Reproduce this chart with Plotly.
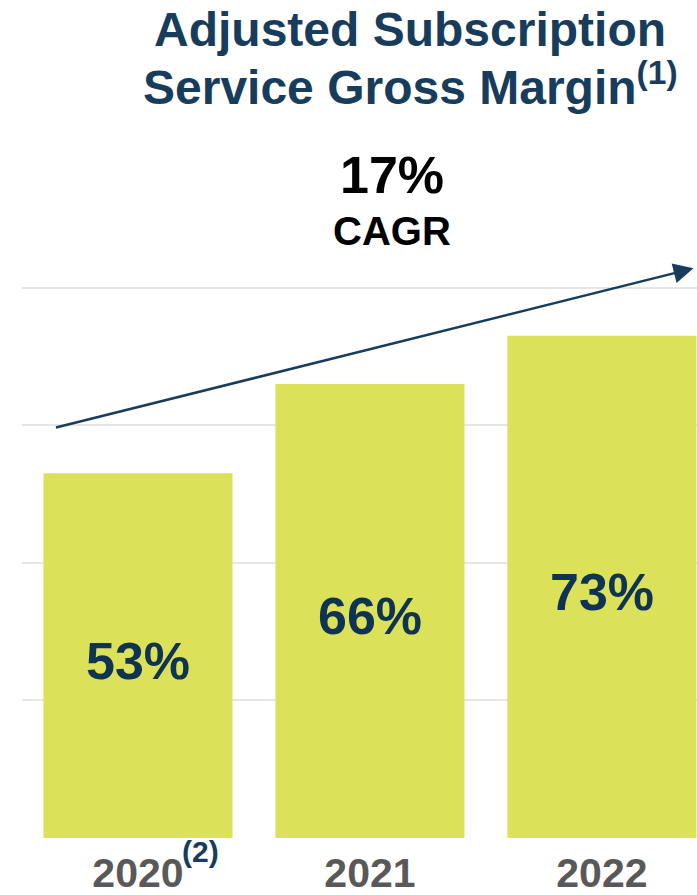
import plotly.graph_objects as go

years = ["2020", "2021", "2022"]
margin_pct = [53, 66, 73]
bar_labels = ["53%", "66%", "73%"]
tick_labels = ["2020", "2021", "2022"]
cagr_text = "17%"
cagr_label = "CAGR"
title_line1 = "Adjusted Subscription"
title_line2 = "Service Gross Margin<sup>(1)</sup>"
footnote_2020 = "(2)"
arrow_start = (-0.36, 59.6)
arrow_end = (2.395, 82.8)

W, H = 697, 895
L, R, T, B = 22, 0, 200, 57
FONT = "Liberation Sans, Arial, sans-serif"
NAVY = "#173c5c"
LABEL_NAVY = "#0f3352"
BAR = "#dce15a"
GRAY = "#595959"
GRID = "#e6e6e6"

pw = W - L - R
ph = H - T - B
px_per_unit = 6.88
yrange_top = ph / px_per_unit


def px(x):
    return (x - L) / pw


def py(y):
    return (H - B - y) / ph


fig = go.Figure()
fig.add_trace(go.Bar(
    x=years, y=margin_pct,
    marker=dict(color=BAR, line=dict(width=0)),
    hoverinfo="skip", showlegend=False,
))

ann = []
for i, (val, lab) in enumerate(zip(margin_pct, bar_labels)):
    ann.append(dict(text=lab, x=i, y=val / 2, xref="x", yref="y", yshift=-5,
                    showarrow=False, xanchor="center", yanchor="middle",
                    font=dict(family=FONT, size=52, color=LABEL_NAVY, weight="bold")))
ann.append(dict(text=title_line1, x=px(410), y=py(29), xref="paper", yref="paper",
                showarrow=False, xanchor="center", yanchor="middle",
                font=dict(family=FONT, size=48, color=NAVY, weight="bold")))
ann.append(dict(text=title_line2, x=px(410), y=py(84), xref="paper", yref="paper",
                showarrow=False, xanchor="center", yanchor="middle",
                font=dict(family=FONT, size=48, color=NAVY, weight="bold")))
ann.append(dict(text=cagr_text, x=px(392), y=py(175), xref="paper", yref="paper",
                showarrow=False, xanchor="center", yanchor="middle",
                font=dict(family=FONT, size=52, color="#000000", weight="bold")))
ann.append(dict(text=cagr_label, x=px(392), y=py(231), xref="paper", yref="paper",
                showarrow=False, xanchor="center", yanchor="middle",
                font=dict(family=FONT, size=40, color="#000000", weight="bold")))
ann.append(dict(text=footnote_2020, x=px(200), y=py(851), xref="paper", yref="paper",
                showarrow=False, xanchor="center", yanchor="middle",
                font=dict(family=FONT, size=30, color=NAVY, weight="bold")))
ann.append(dict(text="", x=arrow_end[0], y=arrow_end[1], xref="x", yref="y",
                ax=arrow_start[0], ay=arrow_start[1], axref="x", ayref="y",
                showarrow=True, arrowhead=2, arrowsize=1.6, arrowwidth=2.5,
                arrowcolor=NAVY))

fig.update_layout(
    width=W, height=H,
    margin=dict(l=L, r=R, t=T, b=B, pad=0, autoexpand=False),
    paper_bgcolor="white", plot_bgcolor="white",
    bargap=0.185,
    annotations=ann,
    xaxis=dict(type="category", range=[-0.5, 2.41], tickvals=years, ticktext=tick_labels,
               showgrid=False, zeroline=False, showline=False, ticks="",
               ticklabelstandoff=7, automargin=False,
               tickfont=dict(family=FONT, size=41, color=GRAY, weight="bold"),
               fixedrange=True),
    yaxis=dict(range=[0, yrange_top], tickvals=[0, 20, 40, 60, 80],
               showticklabels=False, showgrid=True, gridcolor=GRID, gridwidth=2,
               zeroline=False, showline=False, ticks="", fixedrange=True,
               automargin=False),
)

fig.write_html("out.html", config={"displayModeBar": False},
               post_script="document.body.style.margin='0';")
